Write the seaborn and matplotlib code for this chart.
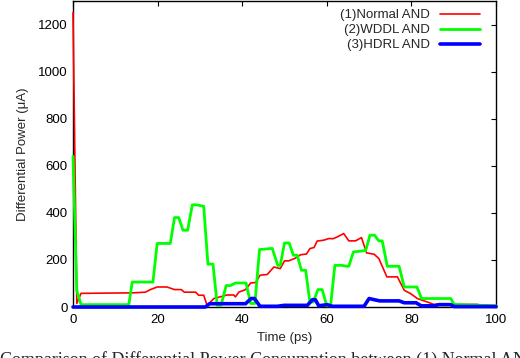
import matplotlib
matplotlib.use("Agg")
import matplotlib.pyplot as plt
import seaborn as sns
import pandas as pd

red_x = [0, 0.9, 1.9, 14, 17.1, 18.3, 19.9, 22.2, 24, 25.6, 26.3, 29, 29.7, 30.9, 31.7, 33.3, 35.6, 36.4, 38, 38.4,
         39.2, 40.8, 42, 43.2, 44.2, 45.9, 47.5, 49, 50, 51, 52.5, 53.8, 55.2, 56, 57, 57.7, 59.3, 60.5, 61.5, 62.5,
         64, 65.2, 66.8, 68.2, 69.4, 71.2, 72.3, 74.2, 76.7, 78.3, 79.8, 81.4, 83.8, 85.3, 88.5, 90.1, 91.7, 95.6, 96.4, 100]
red_y = [1250, 15, 58, 60, 63, 74, 85, 85, 74, 74, 63, 63, 50, 50, 7, 36, 47, 51, 51, 43,
         63, 74, 102, 104, 135, 138, 170, 163, 196, 196, 207, 222, 225, 248, 253, 280, 284, 291, 290, 298,
         312, 281, 281, 295, 230, 224, 206, 128, 128, 71, 57, 36, 21, 11, 11, 7, 11, 11, 7, 5]

green_x = [0, 0.9, 1.9, 13.2, 14, 18.9, 19.9, 23, 24, 25, 26, 27.1, 28.2, 29.2, 30.9, 31.9, 33.1, 34.1, 35, 36.2,
           37.2, 38.4, 40.9, 42, 43, 44.1, 47.1, 48.4, 49, 50, 51.1, 52.1, 53, 54, 55, 56, 56.8, 57.9, 58.9, 60,
           60.9, 61.9, 63.5, 64.7, 65.2, 66.3, 67.8, 69.2, 70.2, 71.3, 72.3, 73.1, 74.3, 77.1, 78.3, 81.3, 82.4, 89.3, 90.1, 100]
green_y = [640, 71, 10, 10, 106, 106, 270, 270, 380, 380, 326, 326, 434, 434, 428, 182, 182, 7, 7, 91,
           91, 102, 102, 15, 15, 244, 249, 177, 177, 272, 272, 220, 220, 156, 156, 21, 21, 74, 74, 5,
           5, 177, 177, 173, 173, 234, 237, 240, 305, 305, 281, 281, 173, 173, 85, 85, 36, 36, 11, 5]

blue_x = [0, 31.3, 32.3, 40.8, 42.1, 42.9, 44.2, 48.3, 49.9, 55.4, 56.6, 57.3, 58.1, 60.1, 61.3, 68.8, 70, 71.2,
          72.5, 77.1, 78.3, 81.1, 82.3, 85.3, 86.5, 89.3, 90.1, 100]
blue_y = [0, 0, 14, 14, 36, 36, 3, 3, 7, 7, 31, 31, 5, 10, 3, 3, 36, 31,
          26, 26, 18, 18, 5, 5, 10, 10, 2, 2]

labels = ["(1)Normal AND", "(2)WDDL AND", "(3)HDRL AND"]
x_ticks = [0, 20, 40, 60, 80, 100]
y_ticks = [0, 200, 400, 600, 800, 1000, 1200]

sns.set_theme(style="white")
plt.rcParams['font.family'] = ['Liberation Sans', 'DejaVu Sans']

fig = plt.figure(figsize=(5.2, 3.58), dpi=100)
ax = fig.add_axes([73/520, 1 - 307/358, (496-73)/520, (307-1)/358])

series = [(red_x, red_y, "#ff0000", 1.2),
          (green_x, green_y, "#00ff00", 2.0),
          (blue_x, blue_y, "#0000ff", 2.6)]
for (xs, ys, col, lw), lab in zip(series, labels):
    df = pd.DataFrame({"x": xs, "y": ys})
    sns.lineplot(data=df, x="x", y="y", ax=ax, color=col, linewidth=lw,
                 label=lab, clip_on=False, zorder=3)

ax.set_xlim(0, 100)
ax.set_ylim(0, 1300)
ax.set_xticks(x_ticks)
ax.set_yticks(y_ticks)
ax.tick_params(direction="in", length=3.6, width=0.8, colors="black",
               top=True, right=True, labelsize=9.5, pad=4)
ax.tick_params(axis="x", pad=5)
for s in ax.spines.values():
    s.set_color("black")
    s.set_linewidth(1.0)
ax.set_xlabel("Time (ps)", fontsize=9.5, labelpad=4)
ax.set_ylabel("Differential Power (\u03bcA)", fontsize=9.5, labelpad=6)

leg = ax.legend(loc="upper right", frameon=False, markerfirst=False, fontsize=9.5,
                handlelength=3.0, handletextpad=0.8, labelspacing=0.22,
                borderaxespad=0.2, bbox_to_anchor=(1 - 8/423, 1.0))
for t in leg.get_texts():
    t.set_ha("right")

fig.text(0.0, -0.02, "Comparison of Differential Power Consumption between (1) Normal AND, (2) WDDL AND and (3) HDRL AND",
         family=["Liberation Serif", "DejaVu Serif"], fontsize=13, va="baseline", ha="left")

fig.savefig("out.png", dpi=100)
